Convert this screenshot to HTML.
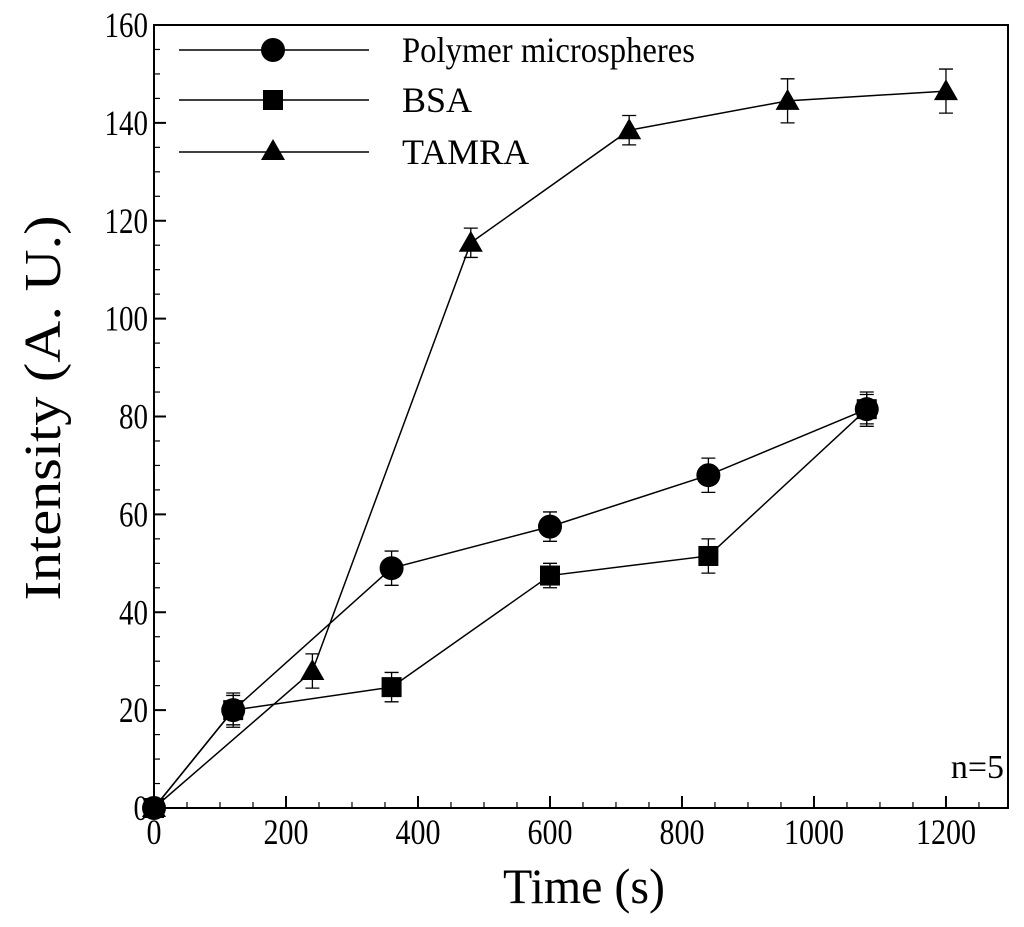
<!DOCTYPE html>
<html><head><meta charset="utf-8"><style>
body{margin:0;background:#fff}
svg text{font-family:"Liberation Serif",serif;fill:#000}
</style></head><body>
<svg id="chart" width="1024" height="922" xmlns="http://www.w3.org/2000/svg"></svg>
<script>
const xTicks=[0,200,400,600,800,1000,1200];
const yTicks=[0,20,40,60,80,100,120,140,160];
const polyX=[0,120,360,600,840,1080];
const polyY=[0,20,49,57.5,68,81.5];
const polyErr=[0,3.5,3.5,3,3.5,3.5];
const bsaX=[0,120,360,600,840,1080];
const bsaY=[0,20,24.7,47.5,51.5,81.5];
const bsaErr=[0,3,3,2.5,3.5,3];
const tamX=[0,240,480,720,960,1200];
const tamY=[0,28,115.5,138.5,144.5,146.5];
const tamErr=[0,3.5,3,3,4.5,4.5];
const seriesNames=["Polymer microspheres","BSA","TAMRA"];

const NS="http://www.w3.org/2000/svg";
const svg=document.getElementById('chart');
const X0=154,X1=1008,Y0=808,Y1=25,XMAX=1294,YMAX=160;
const sx=v=>X0+v*(X1-X0)/XMAX;
const sy=v=>Y0-v*(Y0-Y1)/YMAX;
function el(t,a,p){const e=document.createElementNS(NS,t);for(const k in a)e.setAttribute(k,a[k]);(p||svg).appendChild(e);return e;}

const frame=el('rect',{x:X0,y:Y1,width:X1-X0,height:Y0-Y1,fill:'none',stroke:'#000','stroke-width':2});



for(let v=0;v<=1290;v+=50){
  const major=v%200===0;
  const t=el('line',{x1:sx(v),x2:sx(v),y1:Y0,y2:Y0-(major?12:6),stroke:'#000','stroke-width':major?2:1.2});
  
  
}
for(let v=0;v<=160;v+=5){
  const major=v%20===0;
  const t=el('line',{x1:X0,x2:X0+(major?12:6),y1:sy(v),y2:sy(v),stroke:'#000','stroke-width':major?2:1.2});
  
  
}
xTicks.forEach(v=>{
  const s=String(v);
  const t=el('text',{x:sx(v),y:Y0+36,'font-size':36,'text-anchor':'middle',textLength:s.length*15,lengthAdjust:'spacingAndGlyphs'});t.textContent=s;
  
  
});
yTicks.forEach(v=>{
  const s=String(v);
  const t=el('text',{x:X0-6,y:sy(v)+12,'font-size':36,'text-anchor':'end',textLength:s.length*14.5,lengthAdjust:'spacingAndGlyphs'});t.textContent=s;
  
  
});
const xt=el('text',{x:584,y:903,'font-size':50,'text-anchor':'middle',textLength:162,lengthAdjust:'spacingAndGlyphs'});xt.textContent='Time (s)';


const yt=el('text',{x:0,y:0,'font-size':52,'text-anchor':'middle',textLength:385,lengthAdjust:'spacingAndGlyphs',transform:'translate(60,408) rotate(-90)'});yt.textContent='Intensity (A. U.)';


const nt=el('text',{x:1004,y:778,'font-size':34,'text-anchor':'end'});nt.textContent='n=5';



function marker(type,cx,cy,g){
  if(type==='circle')return el('circle',{cx,cy,r:12,fill:'#000'},g);
  if(type==='square')return el('rect',{x:cx-10,y:cy-10,width:20,height:20,fill:'#000'},g);
  return el('polygon',{points:`${cx},${cy-12} ${cx-12},${cy+9} ${cx+12},${cy+9}`,fill:'#000'},g);
}
function series(xs,ys,es,type,name){
  const g=el('g',{});
  
  
  const pl=el('polyline',{points:xs.map((x,i)=>sx(x)+','+sy(ys[i])).join(' '),fill:'none',stroke:'#000','stroke-width':1.5},g);
  
  
  xs.forEach((x,i)=>{
    if(es[i]>0){
      const cx=sx(x),a=sy(ys[i]+es[i]),b=sy(ys[i]-es[i]);
      const eb=el('path',{d:`M${cx},${a}V${b}M${cx-7},${a}H${cx+7}M${cx-7},${b}H${cx+7}`,stroke:'#000','stroke-width':1.3,fill:'none'},g);
      
      
    }
    const m=marker(type,sx(x),sy(ys[i]),g);
    
    
  });
}
series(tamX,tamY,tamErr,'triangle','tamra-series');
series(bsaX,bsaY,bsaErr,'square','bsa-series');
series(polyX,polyY,polyErr,'circle','polymer-series');

const types=['circle','square','triangle'];
const ly=[50,100,152];
const lw=[293,0,0];
seriesNames.forEach((n,i)=>{
  const g=el('g',{});
  
  
  el('line',{x1:179,x2:369,y1:ly[i],y2:ly[i],stroke:'#000','stroke-width':1.5},g);
  marker(types[i],273,ly[i]+(i===2?-1:0),g);
  const t=el('text',{x:402,y:ly[i]+12,'font-size':36},g);t.textContent=n;
  if(i===0){t.setAttribute('textLength',293);t.setAttribute('lengthAdjust','spacingAndGlyphs');}
});
</script>
</body></html>
